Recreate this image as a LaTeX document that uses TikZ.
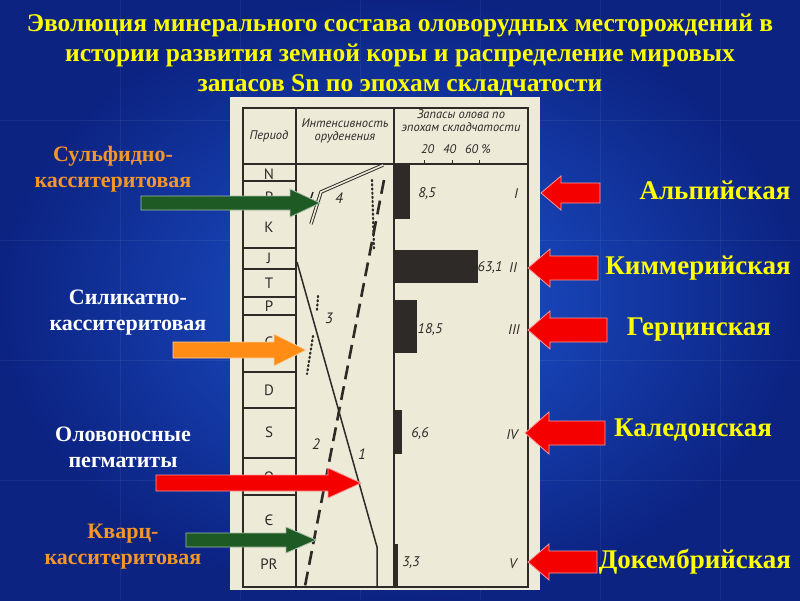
\documentclass[tikz,border=0pt]{standalone}
\usepackage{fontspec}
\setmainfont{Liberation Serif}
\newfontfamily\tabfont{PT Sans}
\definecolor{bgin}{RGB}{30,85,210}
\definecolor{bgout}{RGB}{12,35,130}
\definecolor{ttl}{RGB}{255,255,0}
\definecolor{orng}{RGB}{245,150,40}
\definecolor{paper}{RGB}{238,234,216}
\definecolor{ink}{RGB}{45,42,40}
\definecolor{dgreen}{RGB}{30,90,35}
\definecolor{arred}{RGB}{245,0,0}
\definecolor{arorg}{RGB}{255,140,20}
\newcommand\harr[7]{% x1 x2 y halfbody halfhead headlen colour
  \filldraw[fill=#7,draw=#7!40!white,line width=0.8pt]
   (#1,#3-#4) -- (#2-#6,#3-#4) -- (#2-#6,#3-#5) -- (#2,#3) -- (#2-#6,#3+#5)
   -- (#2-#6,#3+#4) -- (#1,#3+#4) -- cycle;}
\begin{document}
\begin{tikzpicture}[x=1pt,y=-1pt,
  ttlstyle/.style={text=ttl,font=\bfseries\fontsize{25.5}{30}\selectfont,align=center},
  lbl/.style={font=\bfseries\fontsize{22}{26}\selectfont,align=center},
  era/.style={text=ttl,font=\bfseries\fontsize{27}{30}\selectfont},
  tb/.style={text=ink,font=\tabfont\fontsize{15}{16}\selectfont},
  ti/.style={text=ink,font=\tabfont\itshape\fontsize{14}{14}\selectfont,align=center},
  th/.style={text=ink,font=\tabfont\itshape\fontsize{12.5}{13}\selectfont,align=center,inner sep=0pt},
  tl/.style={ink,line width=1.1pt}]
\useasboundingbox (0,0) rectangle (800,600);
\shade[inner color=bgin,outer color=bgout] (0,0) rectangle (800,600);
\foreach \x in {120,240,...,720} \draw[white,opacity=0.06] (\x,0) -- (\x,600);
\foreach \y in {120,240,...,480} \draw[white,opacity=0.06] (0,\y) -- (800,\y);
% title
\node[ttlstyle] (title) at (400,55) {Эволюция минерального состава оловорудных месторождений в\\истории развития земной коры и распределение мировых\\запасов Sn по эпохам складчатости};
% paper
\fill[paper] (230,97) rectangle (540,590);
\draw[tl] (243,108) rectangle (528,587);
\draw[tl] (296,108) -- (296,587);
\draw[tl] (394,108) -- (394,587);
\draw[tl] (243,164) -- (528,164);
\foreach \y in {181,248,269,297,315,372,408,458,495,545} \draw[tl] (243,\y) -- (296,\y);
\foreach \t/\y in {N/174,P/197,K/227,J/258,T/283,P/306,C/342,D/390,S/432,O/477,Є/520,PR/564}
  \node[tb] (p\y) at (269,\y) {\t};
\draw[ink,line width=1pt] (264,198) -- (275,198);
\node[th] (h1) at (269,136) {Период};
\node[th] (h2) at (345,131) {Интенсивность\\оруденения};
\node[th] (h3) at (461,121) {Запасы олова по\\эпохам складчатости};
\node[th] (h4) at (456,149) {20\hspace{9pt}40\hspace{9pt}60 \%};
\foreach \x in {424,452,479} \draw[ink,line width=1pt] (\x,160) -- (\x,164);
% intensity curves
\draw[ink,line width=3.5pt] (383,165) -- (321,192) -- (311,224);
\draw[paper,line width=1.6pt] (383,165) -- (321,192) -- (311,224);
\draw[ink,line width=2.2pt,dash pattern=on 1.2pt off 3pt,line cap=round] (372,180) -- (374,250);
\draw[ink,line width=2.2pt,dash pattern=on 1.2pt off 3pt,line cap=round] (318,296) -- (317,310);
\draw[ink,line width=2.2pt,dash pattern=on 1.2pt off 3pt,line cap=round] (313,336) -- (307,374);
\draw[ink,line width=2.6pt,dash pattern=on 14pt off 7pt] (384,180) -- (305,586);
\draw[ink,line width=1.5pt] (297,262) -- (377,547) -- (377,587);
\draw[ink,line width=1.5pt] (313,192) -- (311,198);
\node[ti,font=\tabfont\itshape\fontsize{15}{15}\selectfont] (n4) at (339,198) {4};
\node[ti,font=\tabfont\itshape\fontsize{15}{15}\selectfont] (n3) at (329,318) {3};
\node[ti,font=\tabfont\itshape\fontsize{15}{15}\selectfont] (n2) at (316,444) {2};
\node[ti,font=\tabfont\itshape\fontsize{15}{15}\selectfont] (n1) at (362,454) {1};
% bars
\fill[ink] (394,164) rectangle (410,219);
\fill[ink] (394,250) rectangle (478,283);
\fill[ink] (394,300) rectangle (417,353);
\fill[ink] (394,410) rectangle (402,454);
\fill[ink] (394,544) rectangle (398,587);
\foreach \v/\x/\y in {{8,5}/427/194,{63,1}/490/268,{18,5}/430/330,{6,6}/420/434,{3,3}/411/563}
  \node[ti,inner sep=0pt] at (\x,\y) {\v};
\foreach \v/\x/\y in {I/516/194,II/513/268,III/514/330,IV/512/435,V/513/564}
  \node[ti,inner sep=0pt] at (\x,\y) {\v};
% left labels
\node[lbl,text=orng] (l1) at (113,169) {Сульфидно-\\касситеритовая};
\node[lbl,text=white] (l2) at (128,313) {Силикатно-\\касситеритовая};
\node[lbl,text=white] (l3) at (123,447) {Оловоносные\\пегматиты};
\node[lbl,text=orng] (l4) at (123,547) {Кварц-\\касситеритовая};
% left arrows
\harr{141}{320}{203}{7}{14}{30}{dgreen}
\harr{173}{306}{350}{8}{16}{32}{arorg}
\harr{156}{361}{483}{8}{15}{33}{arred}
\harr{186}{316}{540}{7}{13}{30}{dgreen}
% right arrows
\harr{600}{541}{193}{10}{17}{-20}{arred}
\harr{598}{528}{268}{12}{19}{-22}{arred}
\harr{607}{528}{330}{12}{19}{-22}{arred}
\harr{605}{525}{433}{12}{21}{-24}{arred}
\harr{597}{528}{562}{11}{18}{-21}{arred}
% right labels
\node[era] (e1) at (715,190) {Альпийская};
\node[era] (e2) at (698,268) {Киммерийская};
\node[era] (e3) at (699,330) {Герцинская};
\node[era] (e4) at (693,430) {Каледонская};
\node[era] (e5) at (695,562) {Докембрийская};
\end{tikzpicture}
\end{document}
